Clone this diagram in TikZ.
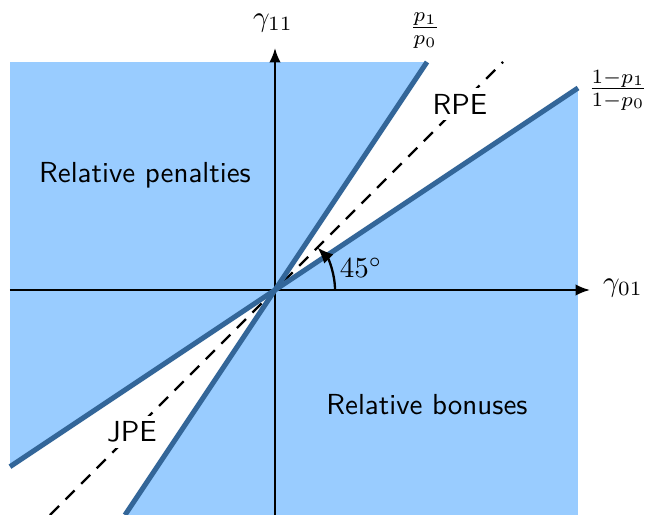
\documentclass[tikz,border=0pt]{standalone}
\usetikzlibrary{arrows.meta}
\definecolor{fillblue}{RGB}{153,204,255}
\definecolor{lineblue}{RGB}{51,102,153}
\begin{document}
\begin{tikzpicture}[x=0.345pt,y=0.345pt,
  bound/.style={line width=1.75pt,draw=lineblue},
  axis/.style={line width=0.75pt,-{Latex[length=5pt,width=4pt]}},
  lbl/.style={font=\sffamily},
  diag/.style={line width=0.8pt,dash pattern=on 4.4pt off 3.2pt}]
\useasboundingbox (-275,-225) rectangle (372,290);
\coordinate (O) at (0,0);
\coordinate (ST) at (152,228);
\coordinate (SB) at (-150,-225);
\coordinate (SR) at (303,202);
\coordinate (SL) at (-265,-176.7);
\coordinate (DT) at (228,228);
\coordinate (DB) at (-225,-225);
\fill[fillblue] (-265,-225) rectangle (303,228);
\fill[white] (O) -- (ST) -- (303,228) -- (SR) -- cycle;
\fill[white] (O) -- (SB) -- (-265,-225) -- (SL) -- cycle;
\draw[diag] (DB) -- (DT);
\node[lbl,fill=white,inner sep=2pt] (rpe) at (185,186) {RPE};
\node[lbl,fill=white,inner sep=2pt] (jpe) at (-143,-142) {JPE};
\coordinate (XL) at (-265,0);
\coordinate (XR) at (315,0);
\coordinate (YB) at (0,-225);
\coordinate (YT) at (0,242);
\draw[axis] (XL) -- (XR);
\draw[axis] (YB) -- (YT);
\draw[bound] (SB) -- (ST);
\draw[bound] (SL) -- (SR);
\draw[line width=0.8pt,-{Latex[length=5.5pt,width=4.5pt]}] (60,0) arc[start angle=0,end angle=45,radius=60];
\node (g11) at (-2,267) {$\gamma_{11}$};
\node (g01) at (348,2) {$\gamma_{01}$};
\node (f1) at (150,259) {$\frac{p_1}{p_0}$};
\node (f2) at (343,200) {$\frac{1-p_1}{1-p_0}$};
\node (ang) at (86,22) {$45^\circ$};
\node[lbl] (pen) at (-130,115) {Relative penalties};
\node[lbl] (bon) at (152,-115) {Relative bonuses};
\end{tikzpicture}
\end{document}
